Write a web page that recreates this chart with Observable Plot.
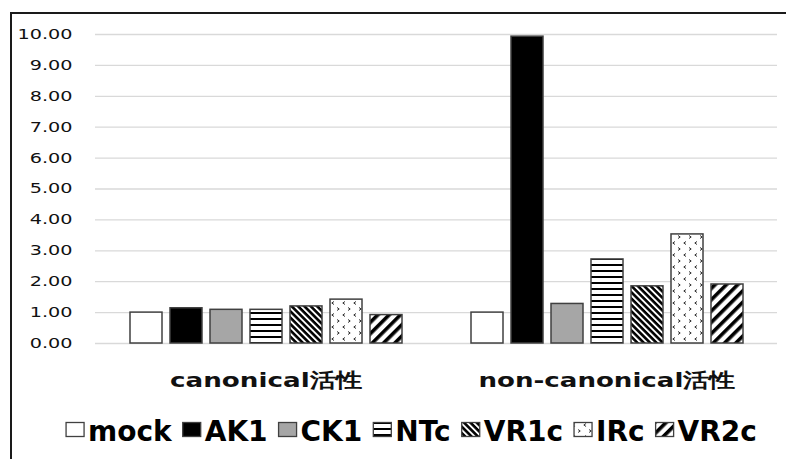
<!DOCTYPE html>
<html>
<head>
<meta charset="utf-8">
<script src="https://cdn.jsdelivr.net/npm/d3@7"></script>
<script src="https://cdn.jsdelivr.net/npm/@observablehq/plot@0.6"></script>
<style>
  html, body { margin: 0; padding: 0; background: #fff; width: 786px; height: 459px; overflow: hidden; }
  #chart { position: absolute; left: 0; top: 0; }
  #chart svg { display: block; }
  #frame { position: absolute; left: 10px; top: 12px; width: 900px; height: 600px;
           border-left: 2px solid #1a1a1a; border-top: 2px solid #1a1a1a; pointer-events: none; }
</style>
</head>
<body>
<div id="chart"></div>
<div id="frame"></div>
<script>
// Activity groups and constructs
const groups = ["canonical活性", "non-canonical活性"];
const series = ["mock", "AK1", "CK1", "NTc", "VR1c", "IRc", "VR2c"];
const canonicalValues = [1.00, 1.14, 1.09, 1.09, 1.20, 1.42, 0.92];
const nonCanonicalValues = [1.00, 9.93, 1.28, 2.72, 1.85, 3.53, 1.91];
const yTicks = [0, 1, 2, 3, 4, 5, 6, 7, 8, 9, 10];

// Fill for each construct (solid colours or hatch patterns defined below)
const seriesFills = ["#ffffff", "#000000", "#a6a6a6", "url(#p-ntc)", "url(#p-vr1c)", "url(#p-irc)", "url(#p-vr2c)"];

const data = [
  ...series.map((s, i) => ({group: groups[0], series: s, value: canonicalValues[i]})),
  ...series.map((s, i) => ({group: groups[1], series: s, value: nonCanonicalValues[i]}))
];

const fmt = d => d.toFixed(2);

const svg = Plot.plot({
  width: 786,
  height: 410,
  marginLeft: 95,
  marginRight: 9,
  marginTop: 34,
  marginBottom: 67,
  style: {fontFamily: "DejaVu Sans", color: "#111", background: "transparent"},
  fx: {domain: groups, padding: 0, label: null, axis: null},
  x: {domain: series, paddingInner: 0.2, paddingOuter: 0.79, axis: null},
  y: {domain: [0, 10], label: null, axis: null},
  color: {domain: series, range: seriesFills},
  marks: [
    Plot.gridY(yTicks, {stroke: "#d9d9d9", strokeOpacity: 1, strokeWidth: 1.3}),
    Plot.axisY(yTicks, {tickSize: 0, tickPadding: 23, fontSize: 14, tickFormat: fmt, label: null}),
    Plot.axisFx({anchor: "bottom", tickSize: 0, tickPadding: 29, fontSize: 20, fontWeight: "bold", label: null}),
    Plot.barY(data, {fx: "group", x: "series", y: "value", fill: "series", stroke: "#404040", strokeWidth: 1.5})
  ]
});

// Hatch patterns
const defs = d3.select(svg).insert("defs", ":first-child");

const ntc = defs.append("pattern").attr("id", "p-ntc").attr("patternUnits", "userSpaceOnUse")
  .attr("width", 6).attr("height", 6);
ntc.append("rect").attr("width", 6).attr("height", 6).attr("fill", "#fff");
ntc.append("rect").attr("width", 6).attr("height", 2).attr("fill", "#000");

const vr1c = defs.append("pattern").attr("id", "p-vr1c").attr("patternUnits", "userSpaceOnUse")
  .attr("width", 4.5).attr("height", 4.5).attr("patternTransform", "rotate(45)");
vr1c.append("rect").attr("width", 4.5).attr("height", 4.5).attr("fill", "#fff");
vr1c.append("rect").attr("width", 4.5).attr("height", 2.6).attr("fill", "#000");

const vr2c = defs.append("pattern").attr("id", "p-vr2c").attr("patternUnits", "userSpaceOnUse")
  .attr("width", 8).attr("height", 8).attr("patternTransform", "rotate(-45)");
vr2c.append("rect").attr("width", 8).attr("height", 8).attr("fill", "#fff");
vr2c.append("rect").attr("width", 8).attr("height", 3.6).attr("fill", "#000");

const irc = defs.append("pattern").attr("id", "p-irc").attr("patternUnits", "userSpaceOnUse")
  .attr("width", 11).attr("height", 12);
irc.append("rect").attr("width", 11).attr("height", 12).attr("fill", "#fff");
irc.append("path").attr("d", "M4,1.5L1.8,3L4,4.5 M7,7.5L9.2,9L7,10.5")
  .attr("fill", "none").attr("stroke", "#333").attr("stroke-width", 1);

document.getElementById("chart").appendChild(svg);

// Set label widths to the chart's typographic proportions
function fitWidth(selection, widthOf) {
  selection.each(function() {
    const w = widthOf(this.getComputedTextLength(), this.textContent);
    this.setAttribute("textLength", w.toFixed(1));
    this.setAttribute("lengthAdjust", "spacingAndGlyphs");
  });
}
const groupLabelWidths = {"canonical活性": 192, "non-canonical活性": 257};
fitWidth(d3.select(svg).selectAll('g[aria-label="y-axis tick label"] text'), w => w * 1.37);
fitWidth(d3.select(svg).selectAll('g[aria-label="fx-axis tick label"] text'), (w, s) => groupLabelWidths[s] ?? w);

// Legend below the plot
const legend = d3.select("#chart").append("svg")
  .attr("width", 786).attr("height", 49)
  .style("font-family", "DejaVu Sans");
const lg = legend.append("g");
let cx = 0;
series.forEach((s, i) => {
  lg.append("rect").attr("x", cx + 1).attr("y", 12.5).attr("width", 18).attr("height", 14)
    .attr("fill", seriesFills[i]).attr("stroke", "#404040").attr("stroke-width", 1.3);
  const t = lg.append("text").attr("x", cx + 23).attr("y", 31)
    .attr("font-size", 28).attr("font-weight", "bold").attr("fill", "#000").text(s);
  cx += 23 + t.node().getComputedTextLength() + 10;
});
const legendWidth = cx - 10;
lg.attr("transform", `translate(${411 - legendWidth / 2},0)`);
</script>
</body>
</html>
